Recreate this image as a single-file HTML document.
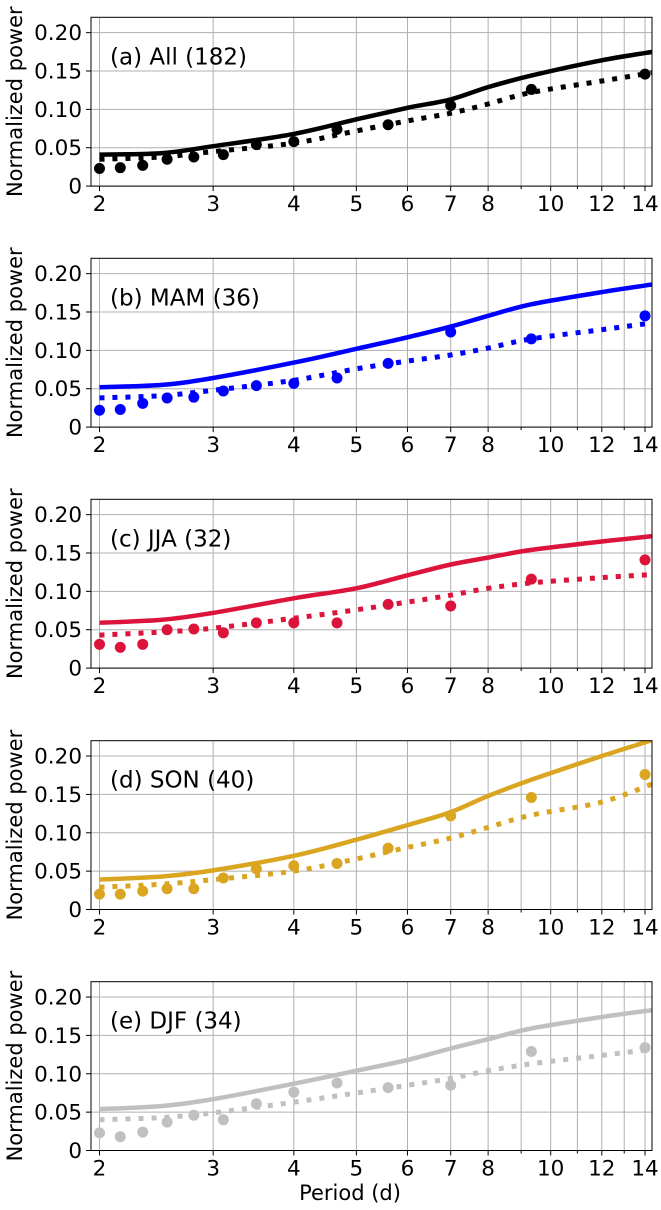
<!DOCTYPE html>
<html><head><meta charset="utf-8"><style>
html,body{margin:0;padding:0;background:#fff;}
svg{display:block;font-family:"DejaVu Sans","Liberation Sans",sans-serif;}
</style></head><body>
<svg id="chart" width="661" height="1210" viewBox="0 0 661 1210"></svg>
<script>
const periods = [2, 28/13, 28/12, 28/11, 28/10, 28/9, 28/8, 28/7, 28/6, 28/5, 28/4, 28/3, 14];
const linePeriods = [2, 2.5, 3, 4, 5, 6, 7, 8, 9.33, 12, 14.4];
const panelTitles = ["(a) All (182)", "(b) MAM (36)", "(c) JJA (32)", "(d) SON (40)", "(e) DJF (34)"];
const panelColors = ["#000000", "#0000ff", "#dc143c", "#daa520", "#c0c0c0"];
const dotsA = [0.023,0.024,0.027,0.035,0.038,0.041,0.054,0.058,0.074,0.080,0.105,0.126,0.146];
const solidA = [0.041,0.043,0.052,0.068,0.087,0.102,0.113,0.129,0.144,0.164,0.175];
const dottedA = [0.035,0.038,0.045,0.056,0.072,0.085,0.095,0.107,0.122,0.137,0.148];
const dotsB = [0.022,0.023,0.031,0.038,0.039,0.047,0.054,0.057,0.064,0.083,0.124,0.115,0.145];
const solidB = [0.052,0.055,0.064,0.084,0.102,0.117,0.131,0.145,0.160,0.176,0.186];
const dottedB = [0.038,0.041,0.048,0.061,0.076,0.086,0.094,0.103,0.115,0.127,0.136];
const dotsC = [0.031,0.027,0.031,0.050,0.051,0.046,0.059,0.059,0.059,0.083,0.081,0.116,0.141];
const solidC = [0.059,0.063,0.072,0.091,0.104,0.121,0.135,0.144,0.154,0.165,0.172];
const dottedC = [0.043,0.047,0.052,0.065,0.076,0.086,0.095,0.104,0.111,0.118,0.122];
const dotsD = [0.020,0.020,0.024,0.027,0.027,0.041,0.053,0.057,0.060,0.080,0.122,0.146,0.176];
const solidD = [0.039,0.043,0.051,0.070,0.091,0.110,0.127,0.148,0.169,0.200,0.221];
const dottedD = [0.029,0.033,0.039,0.050,0.066,0.081,0.093,0.107,0.123,0.140,0.164];
const dotsE = [0.023,0.018,0.024,0.037,0.046,0.040,0.061,0.076,0.088,0.082,0.085,0.129,0.134];
const solidE = [0.054,0.058,0.067,0.087,0.104,0.118,0.133,0.145,0.159,0.174,0.183];
const dottedE = [0.040,0.043,0.049,0.063,0.075,0.085,0.094,0.104,0.113,0.124,0.132];
const yTicks = [0, 0.05, 0.10, 0.15, 0.20];
const yTickLabels = ["0", "0.05", "0.10", "0.15", "0.20"];
const xTicks = [2,3,4,5,6,7,8,10,12,14];
const xTickLabels = ["2","3","4","5","6","7","8","10","12","14"];
const xMinor = [9,11,13];

const allDots = [dotsA, dotsB, dotsC, dotsD, dotsE];
const allSolid = [solidA, solidB, solidC, solidD, solidE];
const allDotted = [dottedA, dottedB, dottedC, dottedD, dottedE];

const NS = "http://www.w3.org/2000/svg";
const svg = document.getElementById("chart");
const L = 91, R = 652, H = 168.8, YMAX = 0.22;
const tops = [17.3, 258.3, 499.3, 740.7, 981.7];
const X0 = 99.5, X1 = 645;
const kx = (X1 - X0) / Math.log(14/2);
function xScale(p){ return X0 + kx * Math.log(p/2); }
function mk(tag, attrs, parent){
  const e = document.createElementNS(NS, tag);
  for (const k in attrs) e.setAttribute(k, attrs[k]);
  (parent || svg).appendChild(e);
  return e;
}
function smoothPath(pts){
  let d = "M" + pts[0][0].toFixed(1) + "," + pts[0][1].toFixed(1);
  for (let i = 0; i < pts.length - 1; i++) {
    const p0 = pts[Math.max(0, i-1)], p1 = pts[i], p2 = pts[i+1], p3 = pts[Math.min(pts.length-1, i+2)];
    const c1x = p1[0] + (p2[0]-p0[0])/6, c1y = p1[1] + (p2[1]-p0[1])/6;
    const c2x = p2[0] - (p3[0]-p1[0])/6, c2y = p2[1] - (p3[1]-p1[1])/6;
    d += " C" + c1x.toFixed(1) + "," + c1y.toFixed(1) + " " + c2x.toFixed(1) + "," + c2y.toFixed(1) + " " + p2[0].toFixed(1) + "," + p2[1].toFixed(1);
  }
  return d;
}

const defs = mk("defs", {});
tops.forEach((top, i) => {
  const cp = mk("clipPath", {id: "clip" + i}, defs);
  mk("rect", {x: L, y: top, width: R - L, height: H}, cp);
});

tops.forEach((top, i) => {
  const bottom = top + H;
  const yScale = v => bottom - v / YMAX * H;
  const g = mk("g", {});
  
  

  const grid = mk("g", {}, g);
  
  
  for (let p = 2; p <= 14; p++) {
    const x = xScale(p);
    mk("line", {x1: x, x2: x, y1: top, y2: bottom, stroke: "#b0b0b0", "stroke-width": 1}, grid);
  }
  yTicks.forEach(v => {
    const y = yScale(v);
    mk("line", {x1: L, x2: R, y1: y, y2: y, stroke: "#b0b0b0", "stroke-width": 1}, grid);
  });

  const color = panelColors[i];
  const toPath = arr => smoothPath(arr.map((v, j) => [xScale(linePeriods[j]), yScale(v)]));
  const solid = mk("path", {d: toPath(allSolid[i]), fill: "none", stroke: color, "stroke-width": 4.5, "clip-path": "url(#clip" + i + ")"}, g);
  
  
  const dotted = mk("path", {d: toPath(allDotted[i]), fill: "none", stroke: color, "stroke-width": 5, "stroke-dasharray": "5,8", "clip-path": "url(#clip" + i + ")"}, g);
  
  

  allDots[i].forEach((v, j) => {
    const c = mk("circle", {cx: xScale(periods[j]), cy: yScale(v), r: 5.5, fill: color, "clip-path": "url(#clip" + i + ")"}, g);
    
    
  });

  const frame = mk("rect", {x: L, y: top, width: R - L, height: H, fill: "none", stroke: "#000", "stroke-width": 1}, g);
  
  

  yTicks.forEach((v, j) => {
    const y = yScale(v);
    mk("line", {x1: L - 5, x2: L, y1: y, y2: y, stroke: "#000", "stroke-width": 1}, g);
    const t = mk("text", {x: L - 9, y: y + 7.5, "text-anchor": "end", "font-size": 21.5, fill: "#000"}, g);
    t.textContent = yTickLabels[j];
    
    
  });
  xTicks.forEach((p, j) => {
    const x = xScale(p);
    mk("line", {x1: x, x2: x, y1: bottom, y2: bottom + 5, stroke: "#000", "stroke-width": 1}, g);
    const t = mk("text", {x: x, y: bottom + 25, "text-anchor": "middle", "font-size": 21.5, fill: "#000"}, g);
    t.textContent = xTickLabels[j];
    
    
  });
  xMinor.forEach(p => {
    const x = xScale(p);
    mk("line", {x1: x, x2: x, y1: bottom, y2: bottom + 3, stroke: "#000", "stroke-width": 1}, g);
  });

  const title = mk("text", {x: 110, y: top + 47, "font-size": 23, fill: "#000"}, g);
  title.textContent = panelTitles[i];
  
  

  const cy = top + H / 2;
  const yl = mk("text", {x: 22, y: cy, transform: "rotate(-90 22 " + cy + ")", "text-anchor": "middle", "font-size": 21, fill: "#000"}, g);
  yl.textContent = "Normalized power";
  
  
});

const xl = mk("text", {x: 350, y: 1200, "text-anchor": "middle", "font-size": 21, fill: "#000"});
xl.textContent = "Period (d)";


</script>
</body></html>
